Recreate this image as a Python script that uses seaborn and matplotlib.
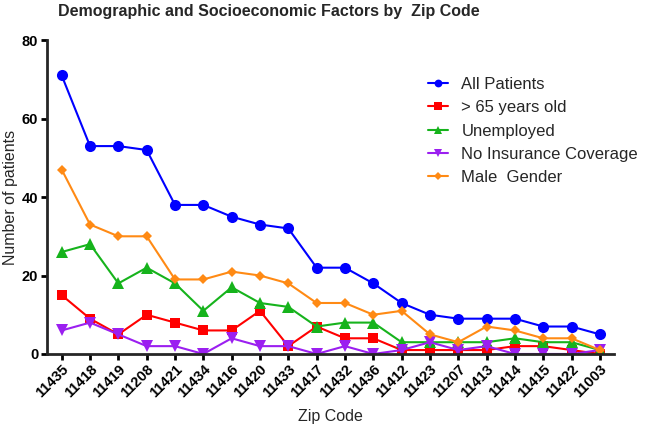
import pandas as pd
import matplotlib
matplotlib.use("Agg")
import matplotlib.pyplot as plt
import seaborn as sns

# zip codes along the x axis
zip_codes = ["11435", "11418", "11419", "11208", "11421", "11434", "11416",
             "11420", "11433", "11417", "11432", "11436", "11412", "11423",
             "11207", "11413", "11414", "11415", "11422", "11003"]

all_patients = [71, 53, 53, 52, 38, 38, 35, 33, 32, 22, 22, 18, 13, 10, 9, 9, 9, 7, 7, 5]
over_65      = [15, 9, 5, 10, 8, 6, 6, 11, 2, 7, 4, 4, 1, 1, 1, 1, 2, 2, 1, 0]
unemployed   = [26, 28, 18, 22, 18, 11, 17, 13, 12, 7, 8, 8, 3, 3, 3, 3, 4, 3, 3, 1]
no_insurance = [6, 8, 5, 2, 2, 0, 4, 2, 2, 0, 2, 0, 1, 3, 1, 2, 0, 0, 0, 1]
male_gender  = [47, 33, 30, 30, 19, 19, 21, 20, 18, 13, 13, 10, 11, 5, 3, 7, 6, 4, 4, 1]

series_names = ["All Patients", "> 65 years old", "Unemployed",
                "No Insurance Coverage", "Male  Gender"]
series_vals = [all_patients, over_65, unemployed, no_insurance, male_gender]

# long format for seaborn
rows = []
for name, vals in zip(series_names, series_vals):
    for i, (z, v) in enumerate(zip(zip_codes, vals)):
        rows.append({"pos": i, "zip": z, "group": name, "count": v})
df = pd.DataFrame(rows)

sns.set_style("ticks")
plt.rcParams["font.family"] = ["Liberation Sans", "DejaVu Sans"]

colors = ["#0000FF", "#FF0000", "#16B31C", "#9B1FF0", "#FF8A14"]
markers = ["o", "s", "^", "v", "D"]
msizes = [8, 7.5, 8, 8, 5.5]

fig = plt.figure(figsize=(6.45, 4.32), dpi=100)
ax = fig.add_axes([0.0724, 0.1806, 0.8796, 0.7264])

for name, c, m, ms in zip(series_names, colors, markers, msizes):
    sns.lineplot(data=df[df["group"] == name], x="pos", y="count", ax=ax,
                 color=c, marker=m, markersize=ms, markeredgewidth=0,
                 linewidth=1.5, label=name)

ax.set_xlim(-0.53, 19.5)
ax.set_ylim(0, 80)
ax.set_yticks([0, 20, 40, 60, 80])
ax.set_xticks(range(len(zip_codes)))
ax.set_xticklabels(zip_codes, rotation=45, ha="right", rotation_mode="anchor",
                   fontweight="bold", fontsize=10.5)
for t in ax.get_yticklabels():
    t.set_fontweight("bold")
    t.set_fontsize(10.5)

for side in ["top", "right"]:
    ax.spines[side].set_visible(False)
for side in ["left", "bottom"]:
    ax.spines[side].set_linewidth(2)
ax.tick_params(width=2, length=4, pad=2, colors="black")

ax.set_xlabel("Zip Code", fontsize=11.5, labelpad=6)
ax.set_ylabel("Number of patients", fontsize=11.5, labelpad=3)
fig.suptitle("Demographic and Socioeconomic Factors by  Zip Code",
             fontsize=11.5, fontweight="bold", x=0.417, y=0.99)

leg = ax.legend(loc="upper left", bbox_to_anchor=(0.6636, 0.822),
                bbox_transform=fig.transFigure, frameon=False,
                fontsize=12, handlelength=1.2, labelspacing=0.5,
                handletextpad=0.8, borderpad=0, borderaxespad=0,
                markerscale=0.7)

fig.savefig("out.png", dpi=100)
